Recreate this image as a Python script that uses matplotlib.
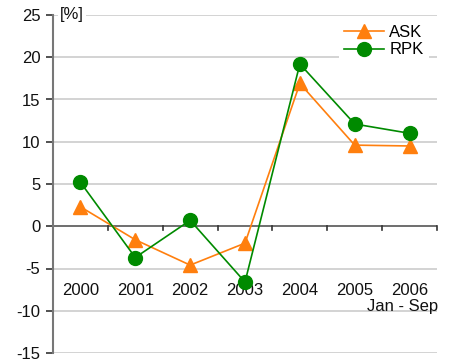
import matplotlib
matplotlib.use("Agg")
import matplotlib.pyplot as plt
import numpy as np

plt.rcParams['font.family'] = ['Liberation Sans', 'DejaVu Sans']

years = ['2000', '2001', '2002', '2003', '2004', '2005', '2006']
ask = [2.3, -1.6, -4.6, -2.0, 16.9, 9.6, 9.5]
rpk = [5.2, -3.7, 0.7, -6.6, 19.2, 12.1, 11.0]
yticks = [-15, -10, -5, 0, 5, 10, 15, 20, 25]

orange = '#ff7f0e'
green = '#008a00'
fs = 12

fig = plt.figure(figsize=(4.53, 3.64), dpi=100)
ax = fig.add_axes([53 / 453, 11 / 364, 384 / 453, 338 / 364])

x = np.arange(len(years))
ax.set_xlim(-0.5, len(years) - 0.5)
ax.set_ylim(-15, 25)

# horizontal grid
for v in yticks:
    if v != 0:
        ax.axhline(v, color='#cccccc', lw=1.2, zorder=0)
ax.axhline(0, color='#555555', lw=1.2, zorder=1)

ax.plot(x, ask, color=orange, lw=1.2, marker='^', ms=10, label='ASK', zorder=3)
ax.plot(x, rpk, color=green, lw=1.2, marker='o', ms=10, label='RPK', zorder=4)

# category ticks along the zero line
for b in np.arange(-0.5, len(years), 1.0):
    ax.plot([b, b], [0, -0.45], color='#333333', lw=1.2, clip_on=False, zorder=2)
for xi, yr in zip(x, years):
    ax.text(xi, -7.6, yr, ha='center', va='center', fontsize=fs, color='#111111')
ax.text(len(years) - 0.48, -9.5, 'Jan - Sep', ha='right', va='center',
        fontsize=fs, color='#111111')

ax.set_xticks([])
ax.set_yticks(yticks)
ax.set_yticklabels([str(v) for v in yticks], fontsize=fs, color='#111111')
ax.tick_params(axis='y', length=5, width=1.2, color='#333333', pad=4)
for s in ['top', 'right', 'bottom']:
    ax.spines[s].set_visible(False)
ax.spines['left'].set_color('#777777')
ax.spines['left'].set_linewidth(1.5)

ax.text(-0.37, 25, '[%]', ha='left', va='center', fontsize=fs,
        color='#111111', bbox=dict(facecolor='white', edgecolor='none', pad=1.5),
        zorder=5)

leg = ax.legend(loc='upper right', bbox_to_anchor=(1.0, 1.01), frameon=True,
                fontsize=fs, handlelength=2.4, handletextpad=0.3,
                labelspacing=0.15, borderpad=0.3, fancybox=False)
leg.get_frame().set_edgecolor('none')
leg.get_frame().set_facecolor('white')
leg.get_frame().set_alpha(1)

fig.savefig('out.png', dpi=100)
